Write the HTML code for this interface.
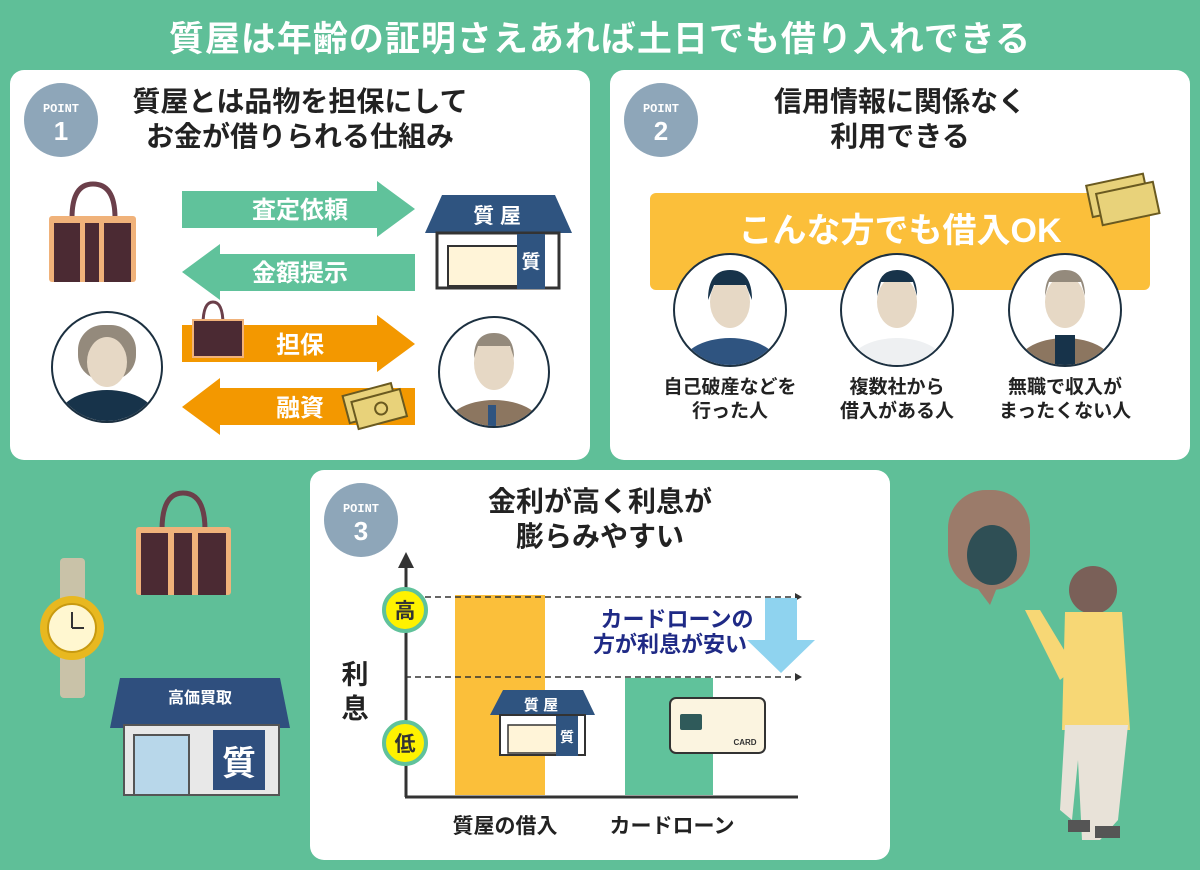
<!DOCTYPE html>
<html><head><meta charset="utf-8"><style>
html,body{margin:0;padding:0;background:#5fbf98;}
svg{display:block;font-family:"Liberation Sans","Noto Sans CJK JP",sans-serif;font-weight:bold;}
</style></head><body>
<svg width="1200" height="870" viewBox="0 0 1200 870" xmlns="http://www.w3.org/2000/svg">
<rect width="1200" height="870" fill="#5fbf98"/>
<text x="600" y="51" text-anchor="middle" font-size="35" letter-spacing="1" fill="#fff">質屋は年齢の証明さえあれば土日でも借り入れできる</text>

<!-- Panel 1 -->
<rect x="10" y="70" width="580" height="390" rx="14" fill="#fff"/>
<circle cx="61" cy="120" r="37" fill="#8ea6b9"/>
<text x="61" y="112" text-anchor="middle" font-size="12" fill="#fff" font-family="Liberation Mono">POINT</text>
<text x="61" y="140" text-anchor="middle" font-size="26" fill="#fff">1</text>
<text x="300" y="111" text-anchor="middle" font-size="28" fill="#222">質屋とは品物を担保にして</text>
<text x="300" y="146" text-anchor="middle" font-size="28" fill="#222">お金が借りられる仕組み</text>

<polygon points="182,191 377,191 377,181 415,209 377,237 377,228 182,228" fill="#60c29b"/>
<text x="300" y="218" text-anchor="middle" font-size="24" fill="#fff">査定依頼</text>
<polygon points="415,254 220,254 220,244 182,272 220,300 220,291 415,291" fill="#60c29b"/>
<text x="300" y="281" text-anchor="middle" font-size="24" fill="#fff">金額提示</text>
<polygon points="182,325 377,325 377,315 415,344 377,372 377,362 182,362" fill="#f39800"/>
<text x="300" y="353" text-anchor="middle" font-size="24" fill="#fff">担保</text>
<polygon points="415,388 220,388 220,378 182,407 220,435 220,425 415,425" fill="#f39800"/>
<text x="300" y="416" text-anchor="middle" font-size="24" fill="#fff">融資</text>

<!-- bag -->
<path d="M72,218 Q72,184 93,184 Q115,184 115,218" fill="none" stroke="#6b3f4a" stroke-width="5"/>
<rect x="49" y="216" width="87" height="66" rx="3" fill="#f0b27a"/>
<rect x="54" y="223" width="77" height="59" fill="#4b2a33"/>
<rect x="80" y="223" width="5" height="59" fill="#f0b27a"/><rect x="99" y="223" width="5" height="59" fill="#f0b27a"/>
<!-- small bag on arrow -->
<path d="M203,325 Q203,302 213,302 Q223,302 223,325" fill="none" stroke="#6b3f4a" stroke-width="3"/>
<rect x="193" y="320" width="50" height="37" fill="#4b2a33" stroke="#f0b27a" stroke-width="2"/>
<!-- money -->
<g transform="rotate(-15 375 405)"><rect x="346" y="388" width="50" height="28" fill="#e8d27a" stroke="#6a5a20" stroke-width="2"/><rect x="353" y="396" width="50" height="28" fill="#e8d27a" stroke="#6a5a20" stroke-width="2"/><circle cx="380" cy="410" r="6" fill="none" stroke="#6a5a20" stroke-width="2"/></g>
<!-- store -->
<polygon points="442,195 555,195 572,233 425,233" fill="#2f5480"/>
<text x="497" y="223" text-anchor="middle" font-size="21" fill="#fff">質 屋</text>
<rect x="437" y="233" width="122" height="55" fill="#fff" stroke="#333" stroke-width="3"/>
<rect x="448" y="246" width="80" height="40" fill="#fff4d8" stroke="#333" stroke-width="2"/>
<rect x="517" y="234" width="28" height="55" fill="#2f5480"/>
<text x="531" y="268" text-anchor="middle" font-size="19" fill="#fff">質</text>
<!-- woman -->
<circle cx="107" cy="367" r="55" fill="#fff" stroke="#1c3040" stroke-width="2"/>
<clipPath id="c1"><circle cx="107" cy="367" r="54"/></clipPath>
<g clip-path="url(#c1)"><ellipse cx="107" cy="420" rx="50" ry="30" fill="#17334a"/><rect x="78" y="325" width="58" height="55" rx="25" fill="#948a7c"/><ellipse cx="107" cy="362" rx="20" ry="25" fill="#e6d8c5"/></g>
<!-- man -->
<circle cx="494" cy="372" r="55" fill="#fff" stroke="#1c3040" stroke-width="2"/>
<clipPath id="c2"><circle cx="494" cy="372" r="54"/></clipPath>
<g clip-path="url(#c2)"><ellipse cx="494" cy="430" rx="50" ry="30" fill="#8c7660"/><rect x="488" y="405" width="8" height="30" fill="#2f5480"/><ellipse cx="494" cy="363" rx="20" ry="27" fill="#e6d8c5"/><path d="M474,358 Q474,333 494,333 Q514,333 514,358 L510,346 L478,346Z" fill="#948a7c"/></g>

<!-- Panel 2 -->
<rect x="610" y="70" width="580" height="390" rx="14" fill="#fff"/>
<circle cx="661" cy="120" r="37" fill="#8ea6b9"/>
<text x="661" y="112" text-anchor="middle" font-size="12" fill="#fff" font-family="Liberation Mono">POINT</text>
<text x="661" y="140" text-anchor="middle" font-size="26" fill="#fff">2</text>
<text x="900" y="111" text-anchor="middle" font-size="28" fill="#222">信用情報に関係なく</text>
<text x="900" y="146" text-anchor="middle" font-size="28" fill="#222">利用できる</text>
<rect x="650" y="193" width="500" height="97" rx="6" fill="#fbbf3a"/>
<text x="900" y="242" text-anchor="middle" font-size="34" fill="#fff">こんな方でも借入OK</text>
<g transform="rotate(-12 1125 200)"><rect x="1090" y="178" width="58" height="32" fill="#e8d27a" stroke="#6a5a20" stroke-width="2"/><rect x="1098" y="188" width="58" height="32" fill="#e8d27a" stroke="#6a5a20" stroke-width="2"/></g>
<g>
<circle cx="730" cy="310" r="56" fill="#fff" stroke="#1c3040" stroke-width="2"/>
<clipPath id="c3"><circle cx="730" cy="310" r="55"/></clipPath>
<g clip-path="url(#c3)"><ellipse cx="730" cy="368" rx="50" ry="30" fill="#2f5480"/><ellipse cx="730" cy="302" rx="20" ry="26" fill="#e6d8c5"/><path d="M708,300 Q708,270 730,270 Q752,270 752,300 L746,285 L714,285Z" fill="#17334a"/></g>
<circle cx="897" cy="310" r="56" fill="#fff" stroke="#1c3040" stroke-width="2"/>
<clipPath id="c4"><circle cx="897" cy="310" r="55"/></clipPath>
<g clip-path="url(#c4)"><ellipse cx="897" cy="368" rx="50" ry="30" fill="#eef0f2"/><ellipse cx="897" cy="302" rx="20" ry="26" fill="#e6d8c5"/><path d="M877,296 Q877,270 897,270 Q917,270 917,296 L913,282 L881,282Z" fill="#17334a"/></g>
<circle cx="1065" cy="310" r="56" fill="#fff" stroke="#1c3040" stroke-width="2"/>
<clipPath id="c5"><circle cx="1065" cy="310" r="55"/></clipPath>
<g clip-path="url(#c5)"><ellipse cx="1065" cy="368" rx="50" ry="30" fill="#8c7660"/><rect x="1055" y="335" width="20" height="40" fill="#17334a"/><ellipse cx="1065" cy="302" rx="20" ry="26" fill="#e6d8c5"/><path d="M1045,296 Q1045,270 1065,270 Q1085,270 1085,296 L1081,282 L1049,282Z" fill="#948a7c"/></g>
</g>
<g font-size="19" fill="#222" text-anchor="middle">
<text x="730" y="393">自己破産などを</text><text x="730" y="417">行った人</text>
<text x="897" y="393">複数社から</text><text x="897" y="417">借入がある人</text>
<text x="1065" y="393">無職で収入が</text><text x="1065" y="417">まったくない人</text>
</g>

<!-- Panel 3 -->
<rect x="310" y="470" width="580" height="390" rx="14" fill="#fff"/>
<circle cx="361" cy="520" r="37" fill="#8ea6b9"/>
<text x="361" y="512" text-anchor="middle" font-size="12" fill="#fff" font-family="Liberation Mono">POINT</text>
<text x="361" y="540" text-anchor="middle" font-size="26" fill="#fff">3</text>
<text x="600" y="511" text-anchor="middle" font-size="28" fill="#222">金利が高く利息が</text>
<text x="600" y="546" text-anchor="middle" font-size="28" fill="#222">膨らみやすい</text>
<rect x="455" y="595" width="90" height="200" fill="#fbbf3a"/>
<rect x="625" y="678" width="88" height="117" fill="#60c29b"/>
<line x1="405" y1="597" x2="795" y2="597" stroke="#333" stroke-width="1.5" stroke-dasharray="6,4"/>
<polygon points="795,593 802,597 795,601" fill="#333"/>
<line x1="405" y1="677" x2="795" y2="677" stroke="#333" stroke-width="1.5" stroke-dasharray="6,4"/>
<polygon points="795,673 802,677 795,681" fill="#333"/>
<line x1="406" y1="565" x2="406" y2="797" stroke="#333" stroke-width="3"/>
<polygon points="398,568 406,552 414,568" fill="#333"/>
<line x1="405" y1="797" x2="798" y2="797" stroke="#333" stroke-width="3"/>
<circle cx="405" cy="610" r="21" fill="#fff200" stroke="#60c29b" stroke-width="4"/>
<text x="405" y="618" text-anchor="middle" font-size="21" fill="#333">高</text>
<circle cx="405" cy="743" r="21" fill="#fff200" stroke="#60c29b" stroke-width="4"/>
<text x="405" y="751" text-anchor="middle" font-size="21" fill="#333">低</text>
<text x="355" y="684" text-anchor="middle" font-size="27" fill="#222">利</text>
<text x="355" y="718" text-anchor="middle" font-size="27" fill="#222">息</text>
<text x="677" y="627" text-anchor="middle" font-size="22" fill="#1f2a86">カードローンの</text>
<text x="670" y="652" text-anchor="middle" font-size="22" fill="#1f2a86">方が利息が安い</text>
<polygon points="765,598 797,598 797,640 815,640 781,673 747,640 765,640" fill="#8fd3ef"/>
<!-- small store -->
<polygon points="503,690 583,690 595,715 490,715" fill="#2f5480"/>
<text x="541" y="710" text-anchor="middle" font-size="15" fill="#fff">質 屋</text>
<rect x="500" y="715" width="85" height="40" fill="#fff" stroke="#333" stroke-width="2"/>
<rect x="508" y="725" width="55" height="28" fill="#fff4d8" stroke="#333" stroke-width="1.5"/>
<rect x="556" y="716" width="22" height="40" fill="#2f5480"/>
<text x="567" y="742" text-anchor="middle" font-size="14" fill="#fff">質</text>
<!-- card -->
<rect x="670" y="698" width="95" height="55" rx="6" fill="#fbf4e0" stroke="#333" stroke-width="2"/>
<rect x="680" y="714" width="22" height="16" rx="2" fill="#2f5a5a"/>
<text x="745" y="745" text-anchor="middle" font-size="8" fill="#333">CARD</text>
<text x="505" y="833" text-anchor="middle" font-size="21" fill="#222">質屋の借入</text>
<text x="672" y="833" text-anchor="middle" font-size="21" fill="#222">カードローン</text>

<!-- left bottom illustrations -->
<path d="M162,530 Q162,493 183,493 Q205,493 205,530" fill="none" stroke="#6b3f4a" stroke-width="5"/>
<rect x="136" y="527" width="95" height="68" rx="3" fill="#f0b27a"/>
<rect x="141" y="533" width="85" height="62" fill="#4b2a33"/>
<rect x="168" y="533" width="6" height="62" fill="#f0b27a"/><rect x="192" y="533" width="6" height="62" fill="#f0b27a"/>
<rect x="60" y="558" width="25" height="140" rx="4" fill="#c9c2a8"/>
<circle cx="72" cy="628" r="32" fill="#e8b820"/>
<circle cx="72" cy="628" r="24" fill="#fff7d0" stroke="#c89a10" stroke-width="2"/>
<line x1="72" y1="628" x2="72" y2="612" stroke="#333" stroke-width="2"/><line x1="72" y1="628" x2="84" y2="628" stroke="#333" stroke-width="2"/>
<polygon points="120,678 280,678 290,728 110,728" fill="#2f4f7e"/>
<text x="200" y="703" text-anchor="middle" font-size="16" fill="#fff">高価買取</text>
<rect x="124" y="725" width="155" height="70" fill="#e8e8e8" stroke="#555" stroke-width="2"/>
<rect x="134" y="735" width="55" height="60" fill="#b8d7ea" stroke="#555" stroke-width="2"/>
<rect x="213" y="730" width="52" height="60" fill="#2f4f7e"/>
<text x="239" y="775" text-anchor="middle" font-size="34" fill="#fff">質</text>

<!-- right person with bubble -->
<rect x="948" y="490" width="82" height="100" rx="38" fill="#9b7b6a"/>
<polygon points="975,585 990,605 998,585" fill="#9b7b6a"/>
<ellipse cx="992" cy="555" rx="25" ry="30" fill="#2f4f55"/>
<circle cx="1093" cy="590" r="24" fill="#7a6058"/>
<polygon points="1065,612 1122,612 1130,730 1062,730" fill="#f7d775"/>
<polygon points="1025,610 1040,610 1075,668 1060,680" fill="#f7d775"/>
<polygon points="1065,725 1128,725 1118,820 1100,840 1082,840 1078,760 1072,820 1060,810" fill="#e8e2d8"/>
<rect x="1068" y="820" width="22" height="12" fill="#555"/>
<rect x="1095" y="826" width="25" height="12" fill="#555"/>
</svg>
</body></html>
